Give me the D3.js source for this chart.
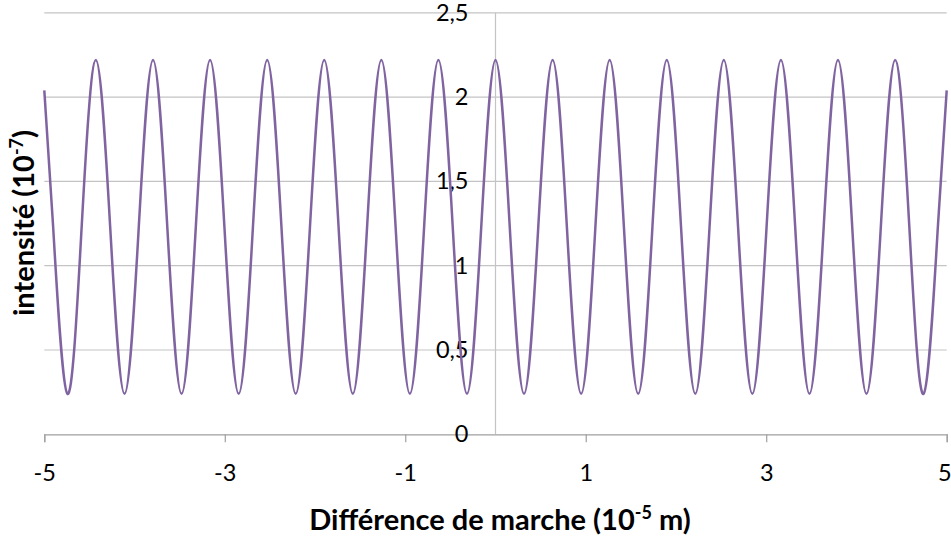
<!DOCTYPE html>
<html><head><meta charset="utf-8">
<script src="https://cdn.jsdelivr.net/npm/d3@7"></script>
<style>body{margin:0;background:#fff;} svg{display:block;font-family:Lato, "Open Sans", sans-serif;}</style>
</head><body><svg id="c" width="951" height="542"></svg>
<script>
// Data: path difference (10^-5 m) and intensity (10^-7)
const xValues = [-5, -4.902, -4.744, -4.586, -4.428, -4.270, -4.111, -3.953, -3.795, -3.637, -3.479, -3.321, -3.163, -3.004, -2.846, -2.688, -2.530, -2.372, -2.214, -2.056, -1.898, -1.739, -1.581, -1.423, -1.265, -1.107, -0.949, -0.791, -0.633, -0.474, -0.316, -0.158, 0, 0.158, 0.316, 0.474, 0.633, 0.791, 0.949, 1.107, 1.265, 1.423, 1.581, 1.739, 1.898, 2.056, 2.214, 2.372, 2.530, 2.688, 2.846, 3.004, 3.163, 3.321, 3.479, 3.637, 3.795, 3.953, 4.111, 4.270, 4.428, 4.586, 4.744, 4.902, 5];
const intensity = [2.04,
  1.23, 0.24, 1.23, 2.22, 1.23, 0.24, 1.23, 2.22, 1.23, 0.24, 1.23, 2.22, 1.23, 0.24, 1.23, 2.22,
  1.23, 0.24, 1.23, 2.22, 1.23, 0.24, 1.23, 2.22, 1.23, 0.24, 1.23, 2.22, 1.23, 0.24, 1.23, 2.22,
  1.23, 0.24, 1.23, 2.22, 1.23, 0.24, 1.23, 2.22, 1.23, 0.24, 1.23, 2.22, 1.23, 0.24, 1.23, 2.22,
  1.23, 0.24, 1.23, 2.22, 1.23, 0.24, 1.23, 2.22, 1.23, 0.24, 1.23, 2.22,
  1.23, 0.24, 1.23, 2.04];
const xTicks = [-5, -3, -1, 1, 3, 5];
const xTickLabels = ["-5", "-3", "-1", "1", "3", "5"];
const yTicks = [0, 0.5, 1, 1.5, 2, 2.5];
const yTickLabels = ["0", "0,5", "1", "1,5", "2", "2,5"];

const svg = d3.select("#c");
const mLeft = 44.3, mRight = 946.7, mTop = 12.8, mBottom = 434.3;
const x = d3.scaleLinear().domain([-5, 5]).range([mLeft, mRight]);
const y = d3.scaleLinear().domain([0, 2.5]).range([mBottom, mTop]);

// horizontal gridlines
svg.append("g").selectAll("line").data(yTicks.filter(d => d > 0)).join("line")
  .attr("x1", mLeft).attr("x2", mRight)
  .attr("y1", d => y(d)).attr("y2", d => y(d))
  .attr("stroke", "#c4c4c4").attr("stroke-width", 1.2);

// vertical axis at x = 0
svg.append("line").attr("x1", x(0)).attr("x2", x(0)).attr("y1", y(2.5)).attr("y2", y(0))
  .attr("stroke", "#c4c4c4").attr("stroke-width", 1.2);

// x axis
const xAxis = d3.axisBottom(x).tickValues(xTicks).tickSize(8).tickPadding(22).tickFormat((d, i) => xTickLabels[i]);
const gx = svg.append("g").attr("transform", `translate(0,${mBottom})`).call(xAxis);
gx.select(".domain").attr("stroke", "#a0a0a0").attr("stroke-width", 1.2);
gx.selectAll(".tick line").attr("stroke", "#a0a0a0").attr("stroke-width", 1.2);
gx.selectAll(".tick text").attr("font-size", 23.5).attr("fill", "#000").attr("font-family", "Lato, sans-serif")
  .attr("dx", (d, i) => i === xTicks.length - 1 ? -2.5 : 0);

// y labels next to the central axis
const yAxis = d3.axisLeft(y).tickValues(yTicks).tickSize(0).tickPadding(27).tickFormat((d, i) => yTickLabels[i]);
const gy = svg.append("g").attr("transform", `translate(${x(0)},0)`).call(yAxis);
gy.select(".domain").remove();
gy.selectAll(".tick text").attr("font-size", 23.5).attr("fill", "#000").attr("font-family", "Lato, sans-serif");

// curve
const pts = xValues.map((d, i) => [d, intensity[i]]);
svg.append("path").datum(pts)
  .attr("fill", "none").attr("stroke", "#8064A2").attr("stroke-width", 2.5)
  .attr("d", d3.line().x(d => x(d[0])).y(d => y(d[1])).curve(d3.curveNatural));

// axis titles
const xt = svg.append("text").attr("x", 500).attr("y", 530).attr("text-anchor", "middle")
  .attr("font-size", 29).attr("font-weight", "bold").attr("fill", "#000");
xt.append("tspan").text("Différence de marche (10");
xt.append("tspan").text("-5").attr("font-size", 18).attr("dy", -11);
xt.append("tspan").text(" m)").attr("dy", 11);

const yt = svg.append("text").attr("transform", "translate(34,223) rotate(-90)").attr("text-anchor", "middle")
  .attr("font-size", 29).attr("font-weight", "bold").attr("fill", "#000");
yt.append("tspan").text("intensité (10");
yt.append("tspan").text("-7").attr("font-size", 18).attr("dy", -11);
yt.append("tspan").text(")").attr("dy", 11);
</script></body></html>
